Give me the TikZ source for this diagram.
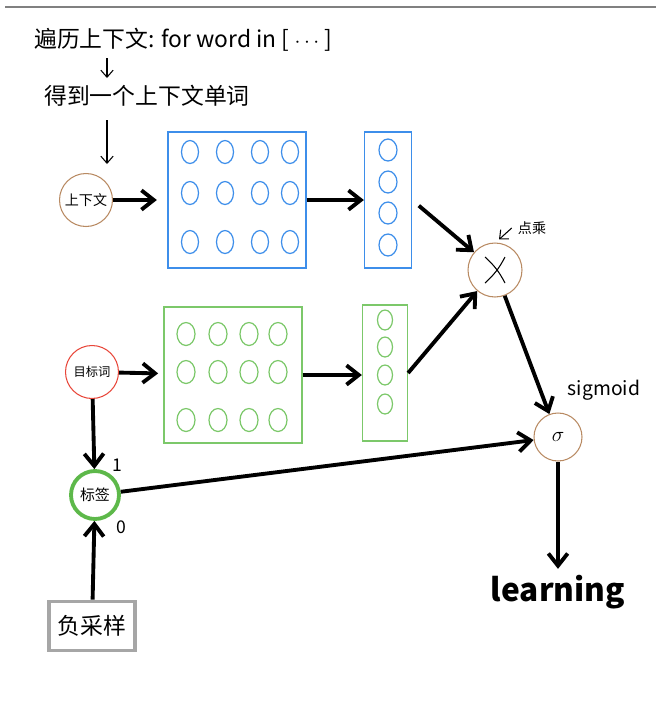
\documentclass[tikz,border=0pt]{standalone}
\usepackage{fontspec}
\newfontfamily\cjk{Noto Sans CJK SC}
\usetikzlibrary{positioning,arrows.meta}

\definecolor{vecblue}{HTML}{3D8EEA}
\definecolor{vecgreen}{HTML}{7CC86A}
\definecolor{ringbrown}{HTML}{B88A62}
\definecolor{tagred}{HTML}{E8473A}
\definecolor{taggreen}{HTML}{5DB84A}

\begin{document}
\begin{tikzpicture}[
    x=0.02cm, y=-0.02cm,
    every node/.style={font=\cjk},
    word/.style={circle, draw=ringbrown, line width=0.6pt, minimum size=1.06cm, inner sep=0pt, font=\cjk\fontsize{8}{9}\selectfont},
    matrixbox/.style={rectangle, draw, line width=0.7pt, minimum width=2.76cm, minimum height=2.72cm},
    vectorbox/.style={rectangle, draw, line width=0.7pt, minimum width=0.94cm, minimum height=2.72cm},
    relation/.style={-{Straight Barb[length=7pt, width=11pt]}, line width=2.2pt},
    hint/.style={-{Straight Barb[length=4pt, width=7pt]}, line width=0.6pt},
    cell/.style={line width=0.7pt}
  ]

    \useasboundingbox (0,0) rectangle (656,701);
    \draw[gray, line width=0.8pt] (5,7) -- (656,7);

    \node[anchor=west, font=\cjk\fontsize{13}{15}\selectfont] (loop) at (28,40) {遍历上下文: for word in [ $\cdots$ ]};
    \node[anchor=west, font=\cjk\fontsize{13}{15}\selectfont] (pick) at (38,96) {得到一个上下文单词};
    \coordinate (pickin) at (107,58);
    \coordinate (pickout) at (107,120);

    \node[word] (ctx) at (86,200) {上下文};
    \node[word, draw=tagred, font=\cjk\fontsize{7}{8}\selectfont] (target) at (92,372) {目标词};
    \node[word, draw=taggreen, line width=2.2pt, minimum size=0.96cm, font=\cjk\fontsize{8.5}{9}\selectfont] (tag) at (95,495) {标签};
    \node[rectangle, draw=gray!70, line width=2.2pt, minimum width=1.72cm, minimum height=0.98cm, font=\cjk\fontsize{13}{15}\selectfont] (neg) at (92,626) {负采样};

    \node[matrixbox, draw=vecblue] (ctxmat) at (237,200) {};
    \node[vectorbox, draw=vecblue] (ctxvec) at (388,200) {};
    \node[matrixbox, draw=vecgreen] (tgtmat) at (233,375) {};
    \node[vectorbox, draw=vecgreen, minimum width=0.9cm] (tgtvec) at (385,373) {};

    \foreach \cx in {190,225,260,290}
      \foreach \cy in {152,193,242}
        \draw[cell, vecblue] (\cx,\cy) ellipse [x radius=0.17cm, y radius=0.23cm];
    \foreach \cy in {150,182,213,245}
      \draw[cell, vecblue] (388,\cy) ellipse [x radius=0.18cm, y radius=0.22cm];
    \foreach \cx in {186,218,249,278}
      \foreach \cy in {334,372,420}
        \draw[cell, vecgreen] (\cx,\cy) ellipse [x radius=0.18cm, y radius=0.23cm];
    \foreach \cy in {320,347,375,404}
      \draw[cell, vecgreen] (385,\cy) ellipse [x radius=0.15cm, y radius=0.2cm];

    \node[word, minimum size=1.08cm] (dot) at (495,270) {};
    \draw[line width=0.6pt] ([shift={(-10,-13)}]dot.center) to[bend left=10] ([shift={(10,13)}]dot.center);
    \draw[line width=0.6pt] ([shift={(10,-13)}]dot.center) to[bend left=10] ([shift={(-10,13)}]dot.center);
    \node[font=\cjk\fontsize{8}{9}\selectfont] (dotlbl) at (532,228) {点乘};

    \node[word, minimum size=0.96cm, font=\fontsize{12}{12}\selectfont] (sig) at (558,437) {$\sigma$};
    \node[font=\cjk\fontsize{11}{12}\selectfont] (siglbl) at (604,390) {sigmoid};
    \node[font=\cjk\bfseries\fontsize{18}{20}\selectfont] (learn) at (558,592) {learning};

    \node[font=\cjk\fontsize{10}{11}\selectfont] (one) at (117,465) {1};
    \node[font=\cjk\fontsize{10}{11}\selectfont] (zero) at (121,527) {0};

    \draw[hint] (pickin) -- ++(0,20);
    \draw[hint] (pickout) -- ++(0,44);
    \draw[hint] (dotlbl.west) -- ([shift={(4,-3)}]dot.north);

    \draw[relation, shorten >=6pt] (ctx) -- (ctxmat);
    \draw[relation] (ctxmat) -- (ctxmat -| ctxvec.west);
    \draw[relation, shorten <=5pt] (ctxvec.east) -- (dot);
    \draw[relation, shorten >=3pt] (target) -- (tgtmat);
    \draw[relation] (tgtmat) -- (tgtmat -| tgtvec.west);
    \draw[relation] (tgtvec.east) -- (dot);
    \draw[relation] (dot) -- (sig);
    \draw[relation] (sig) -- (learn);
    \draw[relation] (target) -- (tag);
    \draw[relation] (tag) -- (sig);
    \draw[relation] (neg) -- (tag);
  \end{tikzpicture}
\end{document}
